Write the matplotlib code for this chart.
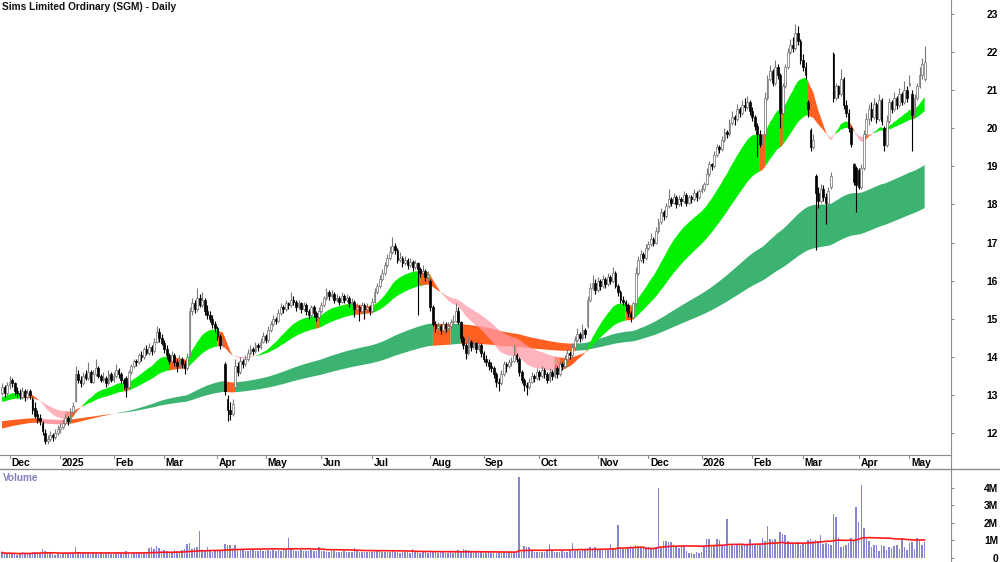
import numpy as np
import pandas as pd
import matplotlib
matplotlib.use("Agg")
import matplotlib.pyplot as plt

plt.rcParams['font.family'] = ['Liberation Sans', 'DejaVu Sans']

title = "Sims Limited Ordinary (SGM) - Daily"
first_day = "2024-11-27"
asx_holidays = ["2024-12-25", "2024-12-26", "2025-01-01", "2025-01-27", "2025-04-18",
                "2025-04-21", "2025-04-25", "2025-06-09", "2025-12-25", "2025-12-26",
                "2026-01-01", "2026-01-26", "2026-04-03", "2026-04-06"]

# daily prices, one line per month (Nov 2024 .. May 2026)
opens = [
    13.05, 13.20, 13.05,
    13.25, 13.40, 13.30, 13.10, 13.05, 12.95, 13.10, 12.95, 13.10, 12.90, 12.65, 12.50, 12.40, 12.25, 12.00, 11.80, 11.85, 11.95, 11.90, 12.00,
    12.10, 12.15, 12.25, 12.40, 12.30, 12.55, 12.85, 13.55, 13.40, 13.30, 13.55, 13.45, 13.60, 13.35, 13.55, 13.70, 13.50, 13.40, 13.45, 13.30, 13.55,
    13.40, 13.50, 13.65, 13.55, 13.40, 13.45, 13.20, 13.60, 13.75, 13.90, 13.85, 14.05, 14.00, 14.20, 14.10, 14.25, 14.15, 14.40, 14.65, 14.50,
    14.35, 14.20, 14.05, 13.90, 14.05, 13.85, 13.75, 13.95, 13.80, 13.70, 14.05, 15.20, 15.40, 15.25, 15.55, 15.35, 15.50, 15.20, 15.10, 15.00, 14.85,
    14.75, 14.55, 14.30, 13.80, 12.90, 12.60, 12.50, 13.20, 13.75, 13.60, 13.90, 13.80, 13.95, 14.10, 14.20, 14.15, 14.30, 14.25, 14.40,
    14.55, 14.45, 14.70, 14.85, 15.00, 14.95, 15.15, 15.30, 15.25, 15.40, 15.35, 15.50, 15.45, 15.30, 15.40, 15.25, 15.35, 15.20, 15.10, 15.30, 15.15, 15.05,
    15.20, 15.35, 15.55, 15.70, 15.60, 15.65, 15.50, 15.55, 15.45, 15.60, 15.50, 15.55, 15.40, 15.45, 15.25, 15.30, 15.20, 15.35, 15.25, 15.30,
    15.20, 15.45, 15.70, 15.85, 16.05, 16.20, 16.40, 16.60, 16.75, 16.90, 16.80, 16.55, 16.60, 16.45, 16.55, 16.40, 16.50, 16.35, 16.45, 16.30, 16.20, 16.25, 16.10,
    16.00, 15.30, 14.85, 14.75, 14.80, 14.70, 14.85, 14.75, 14.80, 14.90, 14.95, 15.20, 14.90, 14.50, 14.30, 14.10, 14.40, 14.25, 14.35, 14.20, 14.30,
    14.10, 13.95, 13.85, 13.75, 13.70, 13.55, 13.35, 13.30, 13.55, 13.80, 13.75, 13.85, 13.90, 14.05, 13.95, 13.60, 13.40, 13.25, 13.20, 13.35, 13.50, 13.45,
    13.60, 13.50, 13.65, 13.55, 13.40, 13.60, 13.50, 13.70, 13.55, 13.80, 13.75, 13.95, 14.10, 14.05, 14.25, 14.45, 14.60, 14.50, 14.70, 14.80, 15.50, 15.80, 15.95,
    15.75, 16.00, 15.85, 16.05, 15.90, 16.10, 16.00, 16.20, 15.85, 15.70, 15.50, 15.45, 15.35, 15.15, 15.05, 15.40, 16.20, 16.55, 16.70, 16.60,
    16.85, 16.95, 17.10, 17.00, 17.30, 17.55, 17.80, 17.70, 17.95, 18.15, 18.05, 18.20, 18.00, 18.15, 18.10, 18.25, 18.05, 18.20, 18.15, 18.30, 18.20,
    18.35, 18.40, 18.55, 18.80, 19.05, 19.00, 19.30, 19.50, 19.45, 19.70, 19.90, 19.85, 20.15, 20.30, 20.25, 20.50, 20.40, 20.60, 20.55, 20.70,
    20.45, 20.30, 20.05, 19.85, 19.60, 19.85, 20.80, 21.30, 21.50, 21.20, 21.60, 21.40, 20.40, 21.10, 21.60, 22.00, 22.20, 22.10, 22.50, 22.30,
    21.80, 21.60, 20.70, 19.95, 19.50, 18.75, 18.30, 18.10, 18.40, 18.20, 18.05, 18.45, 21.95, 20.80, 21.10, 20.90, 21.30, 20.60, 20.40, 20.00, 19.05, 18.95,
    18.90, 18.45, 18.95, 19.85, 20.25, 20.50, 20.30, 20.65, 20.25, 20.75, 20.00, 19.55, 20.20, 20.70, 20.50, 20.80, 20.60, 20.90, 20.70, 21.00,
    21.15, 20.90, 20.35, 20.80, 21.10, 21.40, 21.30,
]
highs = [
    13.30, 13.25, 13.35,
    13.50, 13.45, 13.35, 13.20, 13.15, 13.20, 13.15, 13.15, 13.15, 12.95, 12.80, 12.60, 12.50, 12.30, 12.10, 11.95, 12.05, 12.00, 12.10, 12.20,
    12.25, 12.35, 12.50, 12.45, 12.65, 12.80, 13.75, 13.65, 13.50, 13.60, 13.65, 13.85, 13.65, 13.65, 13.95, 13.75, 13.55, 13.60, 13.50, 13.65, 13.60,
    13.60, 13.80, 13.70, 13.60, 13.45, 13.50, 13.65, 13.80, 13.95, 13.95, 14.10, 14.15, 14.25, 14.30, 14.35, 14.30, 14.50, 14.80, 14.75, 14.60,
    14.45, 14.30, 14.10, 14.15, 14.10, 13.95, 14.05, 14.00, 13.90, 14.10, 15.30, 15.55, 15.50, 15.80, 15.65, 15.70, 15.55, 15.35, 15.20, 15.10, 14.95,
    14.80, 14.60, 14.55, 13.85, 13.00, 12.80, 12.90, 13.95, 13.85, 14.00, 13.95, 14.05, 14.20, 14.30, 14.25, 14.40, 14.35, 14.50, 14.65,
    14.60, 14.80, 14.95, 15.10, 15.05, 15.25, 15.40, 15.35, 15.50, 15.45, 15.70, 15.60, 15.50, 15.50, 15.45, 15.45, 15.40, 15.25, 15.35, 15.35, 15.20, 15.30,
    15.45, 15.60, 15.80, 15.75, 15.75, 15.70, 15.65, 15.60, 15.70, 15.65, 15.65, 15.60, 15.55, 15.50, 15.40, 15.35, 15.45, 15.40, 15.40, 15.35,
    15.55, 15.80, 15.95, 16.15, 16.30, 16.50, 16.70, 16.90, 17.15, 17.00, 16.85, 16.75, 16.65, 16.65, 16.60, 16.60, 16.55, 16.55, 16.50, 16.35, 16.40, 16.30, 16.25,
    16.05, 15.35, 14.95, 14.90, 14.85, 14.95, 14.90, 14.90, 15.00, 15.10, 15.40, 15.30, 14.95, 14.55, 14.35, 14.50, 14.45, 14.45, 14.40, 14.40, 14.35,
    14.15, 14.05, 13.95, 13.85, 13.75, 13.60, 13.45, 13.65, 13.90, 13.85, 13.95, 14.00, 14.30, 14.10, 14.00, 13.65, 13.45, 13.35, 13.45, 13.60, 13.55, 13.70,
    13.65, 13.75, 13.70, 13.60, 13.70, 13.65, 13.80, 13.75, 13.90, 13.85, 14.05, 14.20, 14.15, 14.35, 14.55, 14.75, 14.65, 14.85, 14.75, 15.60, 15.95, 16.15, 16.05,
    16.10, 16.05, 16.15, 16.10, 16.20, 16.15, 16.35, 16.25, 15.90, 15.75, 15.60, 15.50, 15.40, 15.20, 15.45, 16.35, 16.65, 16.80, 16.75, 16.95,
    17.05, 17.25, 17.15, 17.40, 17.65, 17.90, 17.85, 18.05, 18.40, 18.20, 18.30, 18.25, 18.25, 18.20, 18.35, 18.30, 18.25, 18.25, 18.40, 18.35, 18.40,
    18.50, 18.60, 18.95, 19.15, 19.10, 19.40, 19.60, 19.55, 19.80, 20.00, 19.95, 20.25, 20.45, 20.35, 20.65, 20.55, 20.75, 20.80, 20.85, 20.75,
    20.55, 20.35, 20.15, 19.95, 19.85, 20.95, 21.40, 21.65, 21.55, 21.80, 21.70, 21.45, 21.20, 21.70, 22.10, 22.35, 22.40, 22.75, 22.70, 22.35,
    21.95, 21.75, 20.75, 20.00, 19.85, 18.80, 18.45, 18.55, 18.50, 18.30, 18.45, 18.85, 22.00, 21.20, 21.15, 21.55, 21.35, 20.75, 20.50, 20.05, 19.10, 19.00,
    18.95, 19.05, 19.95, 20.40, 20.65, 20.70, 20.80, 20.70, 20.90, 20.80, 20.05, 20.35, 20.80, 20.75, 20.95, 20.85, 21.05, 20.95, 21.25, 21.10,
    21.40, 21.00, 20.90, 21.20, 21.60, 21.85, 22.15,
]
lows = [
    13.00, 12.95, 13.00,
    13.15, 13.20, 13.00, 12.95, 12.90, 12.90, 12.85, 12.90, 12.90, 12.50, 12.40, 12.25, 12.20, 11.95, 11.70, 11.70, 11.80, 11.80, 11.85, 11.95,
    12.00, 12.10, 12.20, 12.20, 12.25, 12.50, 12.80, 13.30, 13.20, 13.25, 13.40, 13.40, 13.30, 13.30, 13.50, 13.45, 13.35, 13.35, 13.20, 13.25, 13.35,
    13.35, 13.45, 13.45, 13.30, 13.15, 12.95, 13.15, 13.55, 13.70, 13.75, 13.80, 13.90, 13.95, 14.05, 14.05, 14.05, 14.10, 14.35, 14.40, 14.30,
    14.10, 13.95, 13.80, 13.85, 13.75, 13.60, 13.70, 13.70, 13.55, 13.65, 14.00, 15.10, 15.15, 15.20, 15.30, 15.30, 15.10, 15.00, 14.90, 14.75, 14.65,
    14.45, 14.20, 14.25, 13.00, 12.30, 12.35, 12.45, 13.15, 13.50, 13.55, 13.70, 13.75, 13.90, 14.05, 14.05, 14.10, 14.15, 14.20, 14.35,
    14.35, 14.40, 14.65, 14.80, 14.85, 14.90, 15.10, 15.15, 15.20, 15.25, 15.30, 15.35, 15.20, 15.25, 15.15, 15.20, 15.10, 15.00, 15.05, 15.05, 14.95, 15.00,
    15.15, 15.30, 15.50, 15.50, 15.55, 15.40, 15.45, 15.35, 15.40, 15.40, 15.45, 15.30, 15.35, 15.05, 15.20, 14.95, 15.15, 15.00, 15.20, 15.10,
    15.15, 15.40, 15.65, 15.80, 16.00, 16.15, 16.35, 16.55, 16.70, 16.70, 16.45, 16.50, 16.35, 16.40, 16.30, 16.35, 16.25, 16.30, 15.10, 16.10, 16.15, 16.00, 16.00,
    15.20, 14.80, 14.65, 14.70, 14.60, 14.65, 14.65, 14.70, 14.75, 14.85, 14.90, 14.85, 14.40, 14.20, 13.95, 14.05, 14.15, 14.20, 14.10, 14.15, 14.00,
    13.85, 13.75, 13.65, 13.60, 13.45, 13.20, 13.10, 13.25, 13.50, 13.60, 13.70, 13.75, 13.85, 13.85, 13.50, 13.30, 13.10, 13.00, 13.15, 13.30, 13.35, 13.40,
    13.40, 13.45, 13.45, 13.30, 13.35, 13.40, 13.45, 13.45, 13.50, 13.65, 13.70, 13.90, 13.95, 14.00, 14.20, 14.40, 14.40, 14.45, 14.50, 14.75, 15.45, 15.75, 15.65,
    15.70, 15.75, 15.80, 15.80, 15.85, 15.90, 15.95, 15.80, 15.60, 15.40, 15.35, 15.20, 15.05, 14.90, 15.00, 15.35, 16.15, 16.50, 16.45, 16.55,
    16.80, 16.90, 16.90, 16.95, 17.25, 17.50, 17.60, 17.65, 17.90, 17.95, 18.00, 17.90, 17.95, 17.95, 18.05, 17.95, 18.00, 18.05, 18.10, 18.10, 18.15,
    18.30, 18.35, 18.50, 18.75, 18.90, 18.95, 19.25, 19.35, 19.40, 19.65, 19.75, 19.80, 20.10, 20.10, 20.20, 20.30, 20.35, 20.45, 20.50, 20.35,
    20.20, 19.95, 19.25, 19.50, 19.55, 19.80, 20.75, 21.25, 21.10, 21.15, 21.30, 20.00, 20.35, 21.05, 21.55, 21.95, 22.00, 22.05, 22.20, 21.70,
    21.50, 21.30, 20.30, 19.40, 19.45, 16.80, 17.90, 18.05, 18.10, 17.50, 18.00, 18.40, 20.70, 20.75, 20.80, 20.85, 20.50, 20.30, 19.90, 19.50, 18.50, 17.80,
    18.40, 18.40, 18.90, 19.80, 20.10, 20.20, 20.25, 20.15, 20.20, 20.10, 19.40, 19.50, 20.15, 20.40, 20.45, 20.50, 20.55, 20.60, 20.65, 20.70,
    21.10, 19.40, 20.30, 20.75, 21.05, 21.30, 21.25,
]
closes = [
    13.20, 13.05, 13.25,
    13.35, 13.30, 13.10, 13.05, 13.00, 13.10, 12.95, 13.05, 13.00, 12.60, 12.45, 12.35, 12.30, 12.05, 11.80, 11.85, 11.95, 11.90, 12.00, 12.10,
    12.15, 12.25, 12.40, 12.30, 12.55, 12.70, 13.55, 13.40, 13.30, 13.50, 13.45, 13.60, 13.35, 13.55, 13.70, 13.50, 13.40, 13.45, 13.30, 13.55, 13.40,
    13.50, 13.65, 13.55, 13.40, 13.30, 13.20, 13.60, 13.75, 13.90, 13.85, 14.05, 14.00, 14.20, 14.10, 14.25, 14.15, 14.40, 14.65, 14.50, 14.35,
    14.20, 14.05, 13.90, 14.05, 13.85, 13.75, 13.95, 13.80, 13.70, 14.00, 15.20, 15.40, 15.25, 15.55, 15.35, 15.50, 15.20, 15.10, 15.00, 14.85, 14.75,
    14.55, 14.30, 14.45, 13.10, 12.60, 12.50, 12.75, 13.75, 13.60, 13.90, 13.80, 13.95, 14.10, 14.20, 14.15, 14.30, 14.25, 14.40, 14.55,
    14.45, 14.70, 14.85, 15.00, 14.95, 15.15, 15.30, 15.25, 15.40, 15.35, 15.50, 15.45, 15.30, 15.40, 15.25, 15.35, 15.20, 15.10, 15.30, 15.15, 15.05, 15.20,
    15.35, 15.55, 15.70, 15.60, 15.65, 15.50, 15.55, 15.45, 15.60, 15.50, 15.55, 15.40, 15.45, 15.25, 15.30, 15.20, 15.35, 15.25, 15.30, 15.20,
    15.45, 15.70, 15.85, 16.05, 16.20, 16.40, 16.60, 16.75, 16.90, 16.80, 16.55, 16.60, 16.45, 16.55, 16.40, 16.50, 16.35, 16.45, 16.30, 16.20, 16.25, 16.10, 16.15,
    15.30, 14.85, 14.75, 14.80, 14.70, 14.85, 14.75, 14.80, 14.90, 14.95, 15.20, 14.90, 14.50, 14.30, 14.10, 14.40, 14.25, 14.35, 14.20, 14.30, 14.10,
    13.95, 13.85, 13.75, 13.70, 13.55, 13.35, 13.30, 13.55, 13.80, 13.75, 13.85, 13.90, 14.05, 13.95, 13.60, 13.40, 13.25, 13.20, 13.35, 13.50, 13.45, 13.60,
    13.50, 13.65, 13.55, 13.40, 13.60, 13.50, 13.70, 13.55, 13.80, 13.75, 13.95, 14.10, 14.05, 14.25, 14.45, 14.60, 14.50, 14.70, 14.60, 15.50, 15.80, 15.95, 15.75,
    16.00, 15.85, 16.05, 15.90, 16.10, 16.00, 16.20, 15.85, 15.70, 15.50, 15.45, 15.35, 15.15, 15.05, 15.40, 16.20, 16.55, 16.70, 16.60, 16.85,
    16.95, 17.10, 17.00, 17.30, 17.55, 17.80, 17.70, 17.95, 18.15, 18.05, 18.20, 18.00, 18.15, 18.10, 18.25, 18.05, 18.20, 18.15, 18.30, 18.20, 18.35,
    18.40, 18.55, 18.80, 19.05, 19.00, 19.30, 19.50, 19.45, 19.70, 19.90, 19.85, 20.15, 20.30, 20.25, 20.50, 20.40, 20.60, 20.55, 20.70, 20.45,
    20.30, 20.05, 19.85, 19.60, 19.75, 20.80, 21.30, 21.50, 21.20, 21.60, 21.40, 20.40, 21.10, 21.60, 22.00, 22.20, 22.10, 22.50, 22.30, 21.80,
    21.60, 21.40, 20.50, 19.50, 19.70, 18.30, 18.10, 18.40, 18.20, 18.05, 18.35, 18.75, 20.80, 21.10, 20.90, 21.30, 20.60, 20.40, 20.00, 19.60, 18.60, 18.50,
    18.45, 18.95, 19.85, 20.25, 20.50, 20.30, 20.65, 20.25, 20.75, 20.20, 19.55, 20.20, 20.70, 20.50, 20.80, 20.60, 20.90, 20.70, 21.00, 20.80,
    21.20, 20.35, 20.80, 21.10, 21.40, 21.70, 21.75,
]
# volume in millions of shares
volumes = [
    0.30, 0.22, 0.25,
    0.28, 0.20, 0.24, 0.18, 0.22, 0.30, 0.26, 0.20, 0.28, 0.32, 0.35, 0.30, 0.28, 0.50, 0.36, 0.26, 0.30, 0.22, 0.15, 0.20,
    0.18, 0.25, 0.28, 0.22, 0.30, 0.26, 0.62, 0.30, 0.28, 0.24, 0.26, 0.30, 0.22, 0.25, 0.28, 0.20, 0.24, 0.22, 0.26, 0.30, 0.20,
    0.22, 0.26, 0.30, 0.24, 0.28, 0.40, 0.26, 0.22, 0.28, 0.30, 0.25, 0.32, 0.28, 0.35, 0.58, 0.62, 0.50, 0.65, 0.55, 0.40,
    0.42, 0.38, 0.35, 0.30, 0.45, 0.40, 0.38, 0.45, 0.52, 0.80, 0.85, 0.50, 0.55, 0.60, 1.53, 0.45, 0.40, 0.62, 0.38, 0.35, 0.42,
    0.40, 0.45, 0.38, 0.78, 0.70, 0.75, 0.55, 0.72, 0.50, 0.42, 0.45, 0.40, 0.38, 0.42, 0.45, 0.40, 0.38, 0.42, 0.40,
    0.38, 0.42, 0.40, 0.45, 0.38, 0.42, 0.40, 0.45, 0.50, 1.10, 0.48, 0.42, 0.40, 0.38, 0.42, 0.40, 0.38, 0.36, 0.42, 0.40, 0.38, 0.60,
    0.40, 0.38, 0.35, 0.32, 0.38, 0.40, 0.35, 0.30, 0.32, 0.38, 0.35, 0.30, 0.33, 0.55, 0.40, 0.32, 0.30, 0.35, 0.32, 0.30,
    0.34, 0.38, 0.40, 0.36, 0.32, 0.30, 0.35, 0.33, 0.38, 0.32, 0.30, 0.28, 0.32, 0.30, 0.35, 0.28, 0.50, 0.32, 0.30, 0.28, 0.30, 0.32, 0.28,
    0.40, 0.35, 0.30, 0.28, 0.32, 0.30, 0.28, 0.26, 0.30, 0.28, 0.32, 0.45, 0.40, 0.48, 0.42, 0.45, 0.38, 0.35, 0.30, 0.28, 0.32,
    0.28, 0.26, 0.30, 0.28, 0.25, 0.28, 0.30, 0.26, 0.28, 0.32, 0.30, 0.28, 0.26, 0.30, 4.60, 0.30, 0.65, 0.62, 0.60, 0.38, 0.35, 0.32,
    0.30, 0.35, 0.32, 0.38, 0.80, 0.40, 0.35, 0.32, 0.30, 0.38, 0.34, 0.32, 0.40, 0.85, 0.38, 0.42, 0.40, 0.45, 0.50, 0.55, 0.60, 0.58, 0.62,
    0.50, 0.45, 0.48, 0.52, 0.45, 0.80, 0.50, 0.55, 1.87, 0.60, 0.52, 0.48, 0.55, 0.65, 0.62, 0.70, 0.65, 0.60, 0.55, 0.60,
    0.62, 0.58, 0.55, 0.60, 3.98, 0.55, 0.95, 0.98, 0.90, 0.92, 0.70, 0.62, 0.58, 0.70, 0.68, 0.40, 0.25, 0.28, 0.22, 0.30, 0.25,
    0.30, 0.65, 1.05, 1.08, 0.70, 0.72, 1.05, 1.02, 0.68, 0.72, 2.23, 0.65, 0.70, 0.68, 0.72, 0.75, 0.70, 0.80, 0.72, 1.05,
    0.75, 0.70, 0.85, 0.72, 1.10, 0.95, 1.80, 1.05, 1.00, 1.08, 0.90, 1.45, 1.35, 1.30, 0.95, 0.88, 0.85, 0.80, 0.90, 0.75,
    0.80, 0.85, 1.00, 1.05, 0.95, 1.02, 0.98, 1.30, 0.80, 0.85, 0.78, 0.70, 2.50, 2.30, 1.10, 0.60, 0.65, 0.72, 0.85, 1.15, 0.95, 2.90,
    2.05, 4.15, 1.70, 1.05, 0.95, 0.60, 0.75, 0.72, 0.40, 0.70, 0.65, 0.45, 0.62, 0.55, 0.68, 0.72, 0.50, 1.10, 0.60, 0.45,
    0.85, 0.88, 0.50, 1.10, 0.95, 0.75, 0.92,
]

# trend ribbons: EMA periods, plus the ribbon edges read at the left edge of the chart
short_periods = (21, 46)
long_periods = (140, 230)
short_start = (12.92, 12.80)
long_start = (12.10, 12.30)
volume_ma_days = 50

price_ticks = list(range(12, 24))
volume_ticks = [0, 1, 2, 3, 4]
volume_tick_labels = ["0", "1M", "2M", "3M", "4M"]

BRIGHT_GREEN = "#00f000"
SEA_GREEN = "#3cb371"
ORANGE = "#ff6020"
PINK = "#ff9aa6"
AXIS_GREY = "#8c8c8c"


def ema(values, span, start):
    a = 2.0 / (span + 1)
    out = np.empty(len(values))
    prev = start
    for i, v in enumerate(values):
        prev = prev + a * (v - prev)
        out[i] = prev
    return out


def draw_ribbon(ax, x, fast, slow, up_col, down_col, z, down_alpha=1.0):
    rising = np.diff(fast, prepend=fast[0]) >= 0
    above = fast >= slow
    up = above & rising
    down = ~above & ~rising
    mixed = ~(up | down)
    for mask, col, alpha in ((up, up_col, 1.0), (mixed, ORANGE, 1.0), (down, down_col, down_alpha)):
        ext = mask.copy()
        ext[1:] |= mask[:-1]
        ax.fill_between(x, fast, slow, where=ext, color=col, alpha=alpha,
                        linewidth=0, zorder=z)


o = np.array(opens)
h = np.array(highs)
l = np.array(lows)
c = np.array(closes)
v = np.array(volumes)
n = len(c)
x = np.arange(n)
dates = pd.bdate_range(first_day, periods=n, freq="C", holidays=asx_holidays)

fig = plt.figure(figsize=(10, 5.62), dpi=100)
W, H = 1000.0, 562.0
ax = fig.add_axes([0, 1 - 455 / H, 951 / W, 455 / H])
ax_d = fig.add_axes([0, 1 - 469 / H, 951 / W, 14 / H], sharex=ax)
ax_v = fig.add_axes([0, 0, 951 / W, (H - 469) / H], sharex=ax)

# ribbons
draw_ribbon(ax, x, ema(c, long_periods[0], long_start[0]), ema(c, long_periods[1], long_start[1]),
            SEA_GREEN, PINK, 1)
draw_ribbon(ax, x, ema(c, short_periods[0], short_start[0]), ema(c, short_periods[1], short_start[1]),
            BRIGHT_GREEN, PINK, 2, down_alpha=0.75)

# candles
up = c >= o
ax.vlines(x, l, h, colors=np.where(up, "#7a7a7a", "black"), linewidth=0.8, zorder=3)
body = np.maximum(np.abs(c - o), 0.025)
ax.bar(x, body, bottom=np.minimum(o, c), width=0.7,
       color=np.where(up, "white", "black"), edgecolor=np.where(up, "#6e6e6e", "black"),
       linewidth=0.5, zorder=4)

ax.set_xlim(-0.79, 374.4)
ax.set_ylim(11.42, 23.37)
ax.set_yticks(price_ticks)
ax.yaxis.tick_right()
ax.tick_params(axis="y", direction="out", length=2.2, color=AXIS_GREY, pad=31.7,
               labelsize=7.4)
for t in ax.get_yticklabels():
    t.set_horizontalalignment("right")
    t.set_fontweight("bold")
ax.tick_params(axis="x", bottom=False, labelbottom=False)
for s in ("left", "top", "bottom"):
    ax.spines[s].set_visible(False)
ax.spines["right"].set_color(AXIS_GREY)
ax.text(2 / 951, 1 - 2 / 455, title, transform=ax.transAxes, ha="left", va="top",
        fontsize=7.3, fontweight="bold", color="#111111")

# date strip
ax_d.set_ylim(0, 1)
ax_d.set_yticks([])
ax_d.tick_params(axis="x", bottom=False, labelbottom=False)
ax_d.spines["left"].set_visible(False)
ax_d.spines["bottom"].set_visible(False)
ax_d.spines["top"].set_color(AXIS_GREY)
ax_d.spines["right"].set_color(AXIS_GREY)
fig.add_artist(plt.Line2D([0, 1], [1 - 469 / H, 1 - 469 / H], color=AXIS_GREY, linewidth=1.0))
months = dates.to_period("M")
for i in range(1, n):
    if months[i] != months[i - 1]:
        d = dates[i]
        label = str(d.year) if d.month == 1 else d.strftime("%b")
        ax_d.plot([i, i], [1, 0.82], color=AXIS_GREY, linewidth=0.8)
        ax_d.text(i + 0.6, 0.42, label, ha="left", va="center", fontsize=7.4,
                  fontweight="bold", color="black")

# volume
ax_v.bar(x, v, width=0.6, color="#8585d0", linewidth=0, zorder=2)
vol_ma = pd.Series(v).rolling(volume_ma_days, min_periods=1).mean()
ax_v.plot(x, vol_ma, color="#ff1a1a", linewidth=1.2, zorder=3)
ax_v.set_ylim(-0.246, 5.07)
ax_v.set_yticks(volume_ticks)
ax_v.set_yticklabels(volume_tick_labels)
ax_v.yaxis.tick_right()
ax_v.tick_params(axis="y", direction="out", length=2.2, color=AXIS_GREY, pad=31.7,
                 labelsize=7.4)
for t in ax_v.get_yticklabels():
    t.set_horizontalalignment("right")
    t.set_fontweight("bold")
ax_v.tick_params(axis="x", bottom=False, labelbottom=False)
for s in ("left", "top", "bottom"):
    ax_v.spines[s].set_visible(False)
ax_v.spines["right"].set_color(AXIS_GREY)
ax_v.text(3 / 951, 1 - 4 / 93, "Volume", transform=ax_v.transAxes, ha="left", va="top",
          fontsize=7.2, fontweight="bold", color="#8080c0")

fig.savefig("out.png", dpi=100, facecolor="white")
